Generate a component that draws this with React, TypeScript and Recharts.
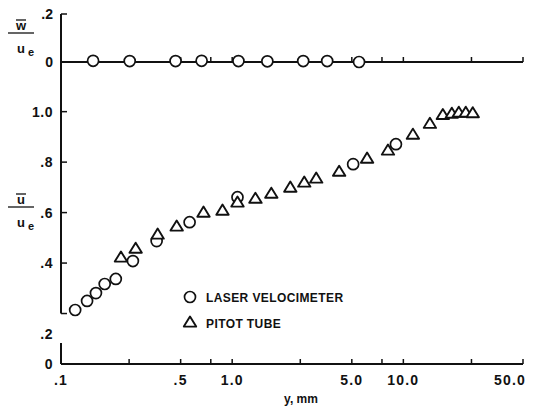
import React from 'react';
import { ComposedChart, Scatter, XAxis, YAxis, ReferenceLine, Legend } from 'recharts';

// ---- data ----
const X_TICKS = [0.1, 0.25, 0.5, 0.75, 1, 2.5, 5, 7.5, 10, 25, 50];
const X_TICK_LABELS = ['.1', '', '.5', '', '1.0', '', '5.0', '', '10.0', '', '50.0'];
const U_TICKS = [0, 0.2, 0.4, 0.6, 0.8, 1.0];
const U_TICK_LABELS = ['0', '.2', '.4', '.6', '.8', '1.0'];
const W_TICKS = [0, 0.2];
const W_TICK_LABELS = ['0', '.2'];

const wY = [0.154, 0.252, 0.467, 0.663, 1.088, 1.605, 2.6, 3.59, 5.51];
const wValues = [0.005, 0.004, 0.004, 0.005, 0.004, 0.003, 0.004, 0.004, 0.0];

const laserY = [0.121, 0.142, 0.16, 0.18, 0.209, 0.263, 0.362, 0.564, 1.074, 5.09, 9.05];
const laserU = [0.214, 0.25, 0.281, 0.317, 0.337, 0.408, 0.487, 0.562, 0.661, 0.792, 0.871];

const pitotY = [0.224, 0.273, 0.367, 0.474, 0.68, 0.878, 1.074, 1.367, 1.693, 2.186, 2.637, 3.097, 4.216, 6.14, 8.13, 11.37, 14.29, 17.01, 19.19, 21.08, 23.15, 25.43];
const pitotU = [0.42, 0.455, 0.511, 0.543, 0.598, 0.606, 0.638, 0.653, 0.673, 0.697, 0.717, 0.733, 0.76, 0.812, 0.844, 0.907, 0.95, 0.985, 0.99, 0.994, 0.994, 0.992];

const SERIES_NAMES = ['LASER VELOCIMETER', 'PITOT TUBE'];

const wData = wY.map((x, i) => ({ x, w: wValues[i] }));
const laserData = laserY.map((x, i) => ({ x, u: laserU[i] }));
const pitotData = pitotY.map((x, i) => ({ x, u: pitotU[i] }));

// ---- layout / style ----
const W = 535;
const H = 409;
const AXIS_X = 61;
const U_DOMAIN: [number, number] = [0, 1.387];
const W_DOMAIN: [number, number] = [-1.258, 0.2];
const U_BREAK = [0.083, 0.2];
const FONT = '"Liberation Sans", Arial, Helvetica, sans-serif';
const INK = '#111';

const CircleMark = (p: any) => (
  <circle cx={p.cx} cy={p.cy} r={5.5} fill="#fff" stroke={INK} strokeWidth={1.7} />
);
const TriangleMark = (p: any) => (
  <path
    d={`M${p.cx},${p.cy - 6.5} L${p.cx + 6.2},${p.cy + 3.6} L${p.cx - 6.2},${p.cy + 3.6} Z`}
    fill="#fff"
    stroke={INK}
    strokeWidth={1.9}
    strokeLinejoin="round"
  />
);

const XTick = (p: any) => {
  const idx = X_TICKS.indexOf(p.payload.value);
  const label = idx >= 0 ? X_TICK_LABELS[idx] : '';
  const isLast = idx === X_TICKS.length - 1;
  return (
    <g>
      <line x1={p.x} x2={p.x} y1={p.y} y2={p.y - 5} stroke={INK} strokeWidth={1.5} />
      {label ? (
        <text
          x={isLast ? p.x + 3 : p.x}
          y={p.y + 21}
          textAnchor={isLast ? 'end' : 'middle'}
          fontSize={14}
          fontWeight="bold"
          letterSpacing={1.2}
          fontFamily={FONT}
          fill={INK}
        >
          {label}
        </text>
      ) : null}
    </g>
  );
};

const UTick = (p: any) => {
  const v = p.payload.value;
  const idx = U_TICKS.indexOf(v);
  const label = U_TICK_LABELS[idx];
  const dy = v === 0.2 ? 20 : 0;
  return (
    <g>
      {v !== 0 ? <line x1={AXIS_X} x2={AXIS_X + 6} y1={p.y} y2={p.y} stroke={INK} strokeWidth={1.5} /> : null}
      <text x={AXIS_X - 8} y={p.y + dy + 5} textAnchor="end" fontSize={14} fontWeight="bold" letterSpacing={0.5} fontFamily={FONT} fill={INK}>
        {label}
      </text>
    </g>
  );
};

const WTick = (p: any) => {
  const v = p.payload.value;
  const idx = W_TICKS.indexOf(v);
  const label = W_TICK_LABELS[idx];
  return (
    <g>
      {v !== 0 ? <line x1={AXIS_X} x2={AXIS_X + 6} y1={p.y} y2={p.y} stroke={INK} strokeWidth={1.5} /> : null}
      <text x={AXIS_X - 8} y={p.y + 5} textAnchor="end" fontSize={14} fontWeight="bold" fontFamily={FONT} fill={INK}>
        {label}
      </text>
    </g>
  );
};

const LegendBox = () => (
  <svg width={200} height={52} style={{ display: 'block' }}>
    <CircleMark cx={8} cy={13} />
    <text x={24} y={17.5} fontSize={12} fontWeight="bold" letterSpacing={0.4} fontFamily={FONT} fill={INK}>
      {SERIES_NAMES[0]}
    </text>
    <TriangleMark cx={8} cy={39} />
    <text x={24} y={43.5} fontSize={12} fontWeight="bold" letterSpacing={0.4} fontFamily={FONT} fill={INK}>
      {SERIES_NAMES[1]}
    </text>
  </svg>
);

const XLabel = () => (
  <text x={301} y={403} textAnchor="middle" fontSize={12} fontWeight="bold" fontFamily={FONT} fill={INK}>
    y, mm
  </text>
);

const Fraction = ({ top, numer }: { top: number; numer: string }) => (
  <g fontFamily={FONT} fontWeight="bold" fill={INK}>
    <line x1={16} x2={26} y1={top} y2={top} stroke={INK} strokeWidth={1.3} />
    <text x={21} y={top + 10} textAnchor="middle" fontSize={13}>{numer}</text>
    <line x1={8} x2={34} y1={top + 13} y2={top + 13} stroke={INK} strokeWidth={1.3} />
    <text x={21} y={top + 33} textAnchor="middle" fontSize={13}>u</text>
    <text x={31} y={top + 36} textAnchor="middle" fontSize={11}>e</text>
  </g>
);

export default function App() {
  return (
    <div style={{ position: 'absolute', left: 0, top: 0, width: W, height: H, background: '#fff' }}>
      <ComposedChart width={W} height={H} margin={{ top: 14, right: 12, bottom: 0, left: 0 }}>
        <XAxis
          dataKey="x"
          type="number"
          scale="log"
          domain={[0.1, 50]}
          ticks={X_TICKS}
          interval={0}
          allowDataOverflow
          height={45}
          tickSize={0}
          tickMargin={0}
          tick={<XTick />}
          axisLine={{ stroke: INK, strokeWidth: 2 }}
          tickLine={false}
          label={<XLabel />}
        />
        <YAxis
          yAxisId="u"
          dataKey="u"
          type="number"
          domain={U_DOMAIN}
          ticks={U_TICKS}
          interval={0}
          allowDataOverflow
          width={AXIS_X}
          tickSize={0}
          tickMargin={0}
          tick={<UTick />}
          axisLine={false}
          tickLine={false}
        />
        <YAxis
          yAxisId="w"
          dataKey="w"
          type="number"
          domain={W_DOMAIN}
          ticks={W_TICKS}
          interval={0}
          allowDataOverflow
          mirror
          tickSize={0}
          tickMargin={0}
          tick={<WTick />}
          axisLine={false}
          tickLine={false}
        />
        <ReferenceLine
          yAxisId="u"
          segment={[{ x: 0.1, y: U_DOMAIN[0] }, { x: 0.1, y: U_BREAK[0] }]}
          stroke={INK}
          strokeWidth={2}
          ifOverflow="visible"
        />
        <ReferenceLine
          yAxisId="u"
          segment={[{ x: 0.1, y: U_BREAK[1] }, { x: 0.1, y: U_DOMAIN[1] }]}
          stroke={INK}
          strokeWidth={2}
          ifOverflow="visible"
        />
        <ReferenceLine yAxisId="w" y={0} stroke={INK} strokeWidth={2} />
        {X_TICKS.slice(1).map((t) => (
          <ReferenceLine
            key={t}
            yAxisId="w"
            segment={[{ x: t, y: 0 }, { x: t, y: 0.021 }]}
            stroke={INK}
            strokeWidth={1.5}
            ifOverflow="visible"
          />
        ))}
        <Legend
          content={<LegendBox />}
          layout="vertical"
          align="center"
          verticalAlign="middle"
          wrapperStyle={{ position: 'absolute', left: 182, top: 284, width: 200, height: 52 }}
        />
        <Scatter name="w" data={wData} yAxisId="w" dataKey="w" shape={<CircleMark />} isAnimationActive={false} />
        <Scatter name={SERIES_NAMES[0]} data={laserData} yAxisId="u" dataKey="u" shape={<CircleMark />} isAnimationActive={false} />
        <Scatter name={SERIES_NAMES[1]} data={pitotData} yAxisId="u" dataKey="u" shape={<TriangleMark />} isAnimationActive={false} />
      </ComposedChart>
      <svg width={W} height={H} style={{ position: 'absolute', left: 0, top: 0, pointerEvents: 'none' }}>
        <Fraction top={20} numer="w" />
        <Fraction top={194} numer="u" />
      </svg>
    </div>
  );
}
